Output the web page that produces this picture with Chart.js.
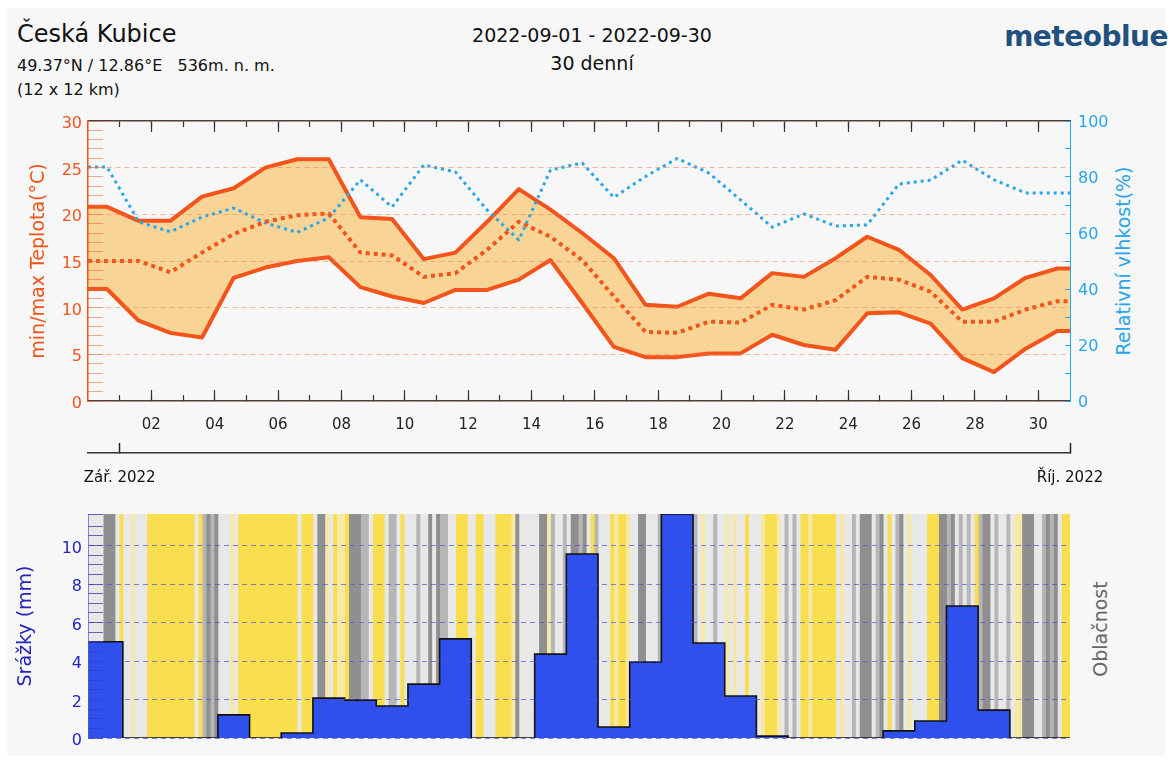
<!DOCTYPE html>
<html lang="cs">
<head>
<meta charset="utf-8">
<title>Česká Kubice – září 2022</title>
<script src="https://cdn.jsdelivr.net/npm/chart.js@4.4.1/dist/chart.umd.min.js"></script>
<style>
  html, body { margin: 0; padding: 0; background: #fff; }
  body { width: 1172px; height: 762px; position: relative; overflow: hidden; font-family: 'DejaVu Sans', sans-serif; }
  .panel { position: absolute; left: 7px; top: 8px; width: 1158px; height: 748px; background: #f7f7f7; }
  .txt { position: absolute; line-height: 1; white-space: nowrap; color: #111; }
  .mid { transform: translateX(-50%); }
  .rot { position: absolute; line-height: 1; white-space: nowrap; font-size: 19px; transform: translate(-50%, -50%) rotate(-90deg); }
  canvas { position: absolute; left: 0; }
</style>
</head>
<body>
<div class="panel"></div>

<div class="txt" style="left:17px; top:22px; font-size:24px">Česká Kubice</div>
<div class="txt" style="left:17px; top:58px; font-size:16px">49.37°N / 12.86°E &nbsp; 536m. n. m.</div>
<div class="txt" style="left:17px; top:82px; font-size:16px">(12 x 12 km)</div>
<div class="txt mid" style="left:592px; top:26px; font-size:19px">2022-09-01 - 2022-09-30</div>
<div class="txt mid" style="left:592px; top:54px; font-size:19px">30 denní</div>
<div class="txt" style="right:4px; top:23px; font-size:28px; font-weight:bold; color:#21507f; letter-spacing:-0.5px">meteoblue</div>

<div class="rot" style="left:1123px; top:261px; color:#29a6ea">Relativní vlhkost(%)</div>
<div class="rot" style="left:1100px; top:629px; color:#666">Oblačnost</div>

<canvas id="tempChart" width="1172" height="400" style="top:100px"></canvas>
<canvas id="rainChart" width="1172" height="262" style="top:500px"></canvas>

<script>
// --- data, one value per day (Sep 2022) ---
const tMax = [20.8, 19.3, 19.3, 21.9, 22.8, 25.0, 25.9, 25.9, 19.7, 19.5, 15.2, 15.9, 19.2, 22.7, 20.5, 18.0,
              15.3, 10.3, 10.1, 11.5, 11.0, 13.7, 13.3, 15.3, 17.6, 16.2, 13.5, 9.8, 11.0, 13.2, 14.2];
const tMin = [12.0, 8.6, 7.3, 6.8, 13.2, 14.3, 15.0, 15.4, 12.2, 11.2, 10.5, 11.9, 11.9, 13.0, 15.1, 10.5,
              5.8, 4.7, 4.7, 5.1, 5.1, 7.1, 6.0, 5.5, 9.4, 9.5, 8.3, 4.6, 3.1, 5.6, 7.5];
const tMean = [15.0, 15.0, 13.8, 15.9, 17.9, 19.2, 19.9, 20.1, 15.9, 15.6, 13.3, 13.7, 16.2, 19.2, 17.6, 15.1,
               11.2, 7.4, 7.3, 8.5, 8.4, 10.3, 9.8, 10.8, 13.3, 13.0, 11.7, 8.5, 8.5, 9.8, 10.7];
const humidity = [83.6, 64, 60.4, 65.7, 68.9, 63.6, 60.2, 65.4, 79, 69.3, 84.3, 81.8, 68.2, 57.5, 82.5, 85,
                  72.7, 80.2, 86.6, 81.4, 71.8, 62.1, 66.8, 62.5, 62.9, 77.5, 78.9, 86, 79, 74.3, 74.3];
const precip = [5.0, 0, 0, 0, 1.2, 0, 0.26, 2.07, 1.97, 1.66, 2.8, 5.15, 0, 0, 4.36, 9.56,
                0.57, 3.95, 11.64, 4.94, 2.18, 0.1, 0, 0, 0, 0.37, 0.88, 6.86, 1.45, 0, 0];

// cloud cover class every 3 h: 0 clear ... 4 overcast
const cloud = [
  2,2,2,2,4,4,4,2,0,2, 2,1,2,2,2,0,0,0,0,0, 0,0,0,0,0,0,0,2,0,3, 4,3,4,2,2,2,1,2,0,0,
  0,0,0,0,0,0,0,0,0,0, 0,0,0,2,0,0,0,2,4,4, 1,2,0,1,1,0,4,4,4,3, 3,2,0,0,0,2,3,3,2,0,
  2,2,2,
  3,2,2,4,2,4,3,3,2,2, 0,0,0,2,2,0,0,2,2,2, 0,0,0,0,1,4,2,2,2,2, 2,4,4,1,3,2,2,3,2,4,
  4,3,4,2,0,3,2,2,2,0, 1,0,0,1,2,2,4,4,2,2, 2,3,3,2,2,3,3,2,2,3, 3,2,1,2,2,3,2,2,1,2,
  1,2,2,
  0,2,2,2,1,0,0,0,1,2, 3,2,3,2,0,0,1,0,0,0, 0,0,0,2,1,2,2,3,2,4, 4,4,2,3,4,2,0,2,3,4,
  2,1,2,2,2,2,0,0,0,4, 4,3,4,2,3,2,3,2,0,3, 4,4,2,3,2,2,3,2,1,1, 4,4,4,2,2,3,4,3,4,2,
  0,0
];
const cloudColors = ['#f9df4f', '#f6e8a6', '#e8e8e8', '#b6b6b6', '#8f8f8f'];

const dayLabels = ['02', '04', '06', '08', '10', '12', '14', '16', '18', '20', '22', '24', '26', '28', '30'];
const monthLabels = ['Zář. 2022', 'Říj. 2022'];

const nDays = 31;          // plot spans 31 day-widths
const dayTime = 0.6;       // where in the day the daily value is plotted
const slotsPerDay = 8;

const red = '#f2541b';
const band = '#f8d597';
const blue = '#29a6ea';
const rainBlue = '#2f50ec';
const rainText = '#2323be';

Chart.defaults.font.family = "'DejaVu Sans', sans-serif";

// daily values -> points, held flat out to the plot edges
const toPoints = vals => [
  { x: 0, y: vals[0] },
  ...vals.map((v, k) => ({ x: k + dayTime, y: v })),
  { x: nDays, y: vals[vals.length - 1] }
];
const allDays = Array.from({ length: 30 }, (_, i) => i + 1);
const evenDays = allDays.filter(d => d % 2 === 0);
const setTicks = list => s => { s.ticks = list.map(v => ({ value: v })); };
const setH = h => s => { s.height = h; };
// fixed width, and no extra room asked for end labels
const setW = w => s => { s.width = w; s.paddingTop = 0; s.paddingBottom = 0; };

// inward tick marks along top/bottom borders
const tickAxis = (position, weight, list, len, withBorder) => ({
  type: 'linear', position, weight, min: 0, max: nDays,
  afterBuildTicks: setTicks(list), afterFit: setH(0),
  ticks: { display: false },
  grid: { drawOnChartArea: false, tickLength: len, tickColor: '#333', tickWidth: 1.2 },
  border: { display: withBorder, color: '#444', width: 1.5 }
});

new Chart(document.getElementById('tempChart'), {
  type: 'line',
  data: {
    datasets: [
      { label: 'max', data: toPoints(tMax), borderColor: red, borderWidth: 4, fill: 1, backgroundColor: band, order: 4 },
      { label: 'min', data: toPoints(tMin), borderColor: red, borderWidth: 4, fill: false, order: 3 },
      { label: 'vlhkost', data: toPoints(humidity), yAxisID: 'yh', borderColor: blue, borderWidth: 3, borderDash: [3, 4], fill: false, order: 2 },
      { label: 'průměr', data: toPoints(tMean), borderColor: red, borderWidth: 4, borderDash: [4, 4], fill: false, order: 1 }
    ]
  },
  options: {
    responsive: false,
    animation: false,
    events: [],
    layout: { padding: { top: 21, left: 0, right: 0, bottom: 0 } },
    elements: { point: { radius: 0 }, line: { tension: 0, borderCapStyle: 'butt', borderJoinStyle: 'round' } },
    plugins: { legend: { display: false }, tooltip: { enabled: false } },
    scales: {
      x: {
        type: 'linear', position: 'bottom', weight: 1, min: 0, max: nDays,
        afterBuildTicks: setTicks(allDays), afterFit: setH(52),
        ticks: { autoSkip: false, maxRotation: 0, padding: 21, color: '#222', font: { size: 15 },
                 callback: v => (v % 2 ? '' : dayLabels[v / 2 - 1]) },
        grid: { drawOnChartArea: false, tickLength: -6, tickColor: '#333', tickWidth: 1.2 },
        border: { color: '#444', width: 1.5 }
      },
      xMaj: tickAxis('bottom', 0, evenDays, -11, false),
      xTop: tickAxis('top', 1, allDays, -6, true),
      xTopMaj: tickAxis('top', 0, evenDays, -11, false),
      xMonth: {
        type: 'linear', position: 'bottom', weight: 2, min: 0, max: nDays,
        afterBuildTicks: setTicks([1, nDays]), afterFit: setH(47),
        ticks: { autoSkip: false, maxRotation: 0, padding: 26, color: '#111', font: { size: 15 },
                 callback: v => (v === 1 ? monthLabels[0] : monthLabels[1]) },
        grid: { drawOnChartArea: false, tickLength: -10, tickColor: '#222', tickWidth: 1.5 },
        border: { color: '#333', width: 1.5 }
      },
      y: {
        position: 'left', min: 0, max: 30, afterFit: setW(88),
        ticks: { stepSize: 1, autoSkip: false, padding: 21, labelOffset: 3, color: red, font: { size: 16 },
                 callback: v => (v % 5 === 0 ? v : '') },
        grid: {
          z: 1,
          color: c => (c.tick && c.tick.value % 5 === 0 ? 'rgba(246,120,80,0.55)' : 'transparent'),
          tickColor: 'rgba(240,110,60,0.6)', tickLength: -15
        },
        border: { color: red, width: 1.5, dash: [5, 4], z: 1 },
        title: { display: true, text: 'min/max Teplota(°C)', color: red, font: { size: 19 }, padding: { top: 28, bottom: 0 } }
      },
      yh: {
        position: 'right', min: 0, max: 100, afterFit: setW(102),
        ticks: { stepSize: 10, autoSkip: false, padding: 13, labelOffset: 2, color: blue, font: { size: 16 },
                 callback: v => (v % 20 === 0 ? v : '') },
        grid: { drawOnChartArea: false, tickColor: blue, tickLength: -5, z: 1 },
        border: { color: blue, width: 1, z: 1 }
      }
    }
  }
});

new Chart(document.getElementById('rainChart'), {
  type: 'line',
  data: {
    datasets: [
      {
        type: 'bar', label: 'Oblačnost', yAxisID: 'yc', order: 2,
        data: cloud.map((c, i) => ({ x: (i + 0.5) / slotsPerDay, y: 1 })),
        backgroundColor: cloud.map(c => cloudColors[c]),
        borderWidth: 0, barPercentage: 1, categoryPercentage: 1
      },
      {
        label: 'Srážky', yAxisID: 'yp', order: 1, data: toPoints(precip),
        stepped: 'middle', fill: 'origin', backgroundColor: rainBlue, borderColor: '#111', borderWidth: 1.6
      }
    ]
  },
  options: {
    responsive: false,
    animation: false,
    events: [],
    layout: { padding: { top: 14, left: 0, right: 0, bottom: 24 } },
    elements: { point: { radius: 0 }, line: { tension: 0 } },
    plugins: { legend: { display: false }, tooltip: { enabled: false } },
    scales: {
      x: { type: 'linear', min: 0, max: nDays, offset: false, display: false },
      yp: {
        position: 'left', min: 0, max: Math.max(...precip), afterFit: setW(88),
        ticks: { stepSize: 0.5, autoSkip: false, padding: 21, labelOffset: 3, color: rainText, font: { size: 16 },
                 callback: v => (v % 2 === 0 ? v : '') },
        grid: {
          z: 1,
          color: c => (c.tick && c.tick.value % 2 === 0 ? 'rgba(80,80,215,0.7)' : 'transparent'),
          tickColor: 'rgba(60,60,200,0.8)', tickLength: -15
        },
        border: { color: 'rgba(90,90,200,0.7)', width: 1, dash: [5, 4], z: 1 },
        title: { display: true, text: 'Srážky (mm)', color: rainText, font: { size: 19 }, padding: { top: 15, bottom: 0 } }
      },
      yc: {
        position: 'right', min: 0, max: 1, afterFit: setW(102),
        ticks: { display: false }, grid: { display: false }, border: { display: false }
      }
    }
  }
});
</script>
</body>
</html>
